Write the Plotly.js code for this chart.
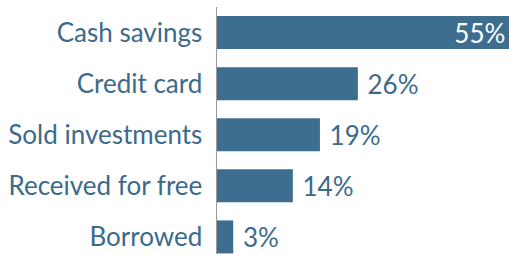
<!DOCTYPE html>
<html>
<head>
<meta charset="utf-8">
<script src="https://cdn.plot.ly/plotly-3.0.1.min.js"></script>
<style>html,body{margin:0;padding:0;overflow:hidden;background:#fff}</style>
</head>
<body>
<div id="chart" style="width:509px;height:254px"></div>
<script>
const categories = ["Cash savings", "Credit card", "Sold investments", "Received for free", "Borrowed"];
const values = [55, 26, 19, 14, 3];
const valueLabels = ["55%\u00a0", " 26%", " 19%", " 14%", " 3%"];
const textPositions = ["inside", "outside", "outside", "outside", "outside"];

const blue = "#3d6d8f";
const textBlue = "#3b6a8b";
const font = "Lato, sans-serif";

Plotly.newPlot("chart", [{
  type: "bar",
  orientation: "h",
  y: categories,
  x: values,
  text: valueLabels,
  textposition: textPositions,
  insidetextanchor: "end",
  constraintext: "none",
  textangle: 0,
  textfont: {family: font, size: 26},
  insidetextfont: {color: "#ffffff", family: font, size: 26},
  outsidetextfont: {color: textBlue, family: font, size: 26},
  marker: {color: blue},
  cliponaxis: true,
  hoverinfo: "none"
}], {
  width: 509,
  height: 254,
  margin: {l: 217, r: 0, t: 7, b: 0},
  paper_bgcolor: "#ffffff",
  plot_bgcolor: "#ffffff",
  bargap: 0.354,
  showlegend: false,
  xaxis: {range: [0, 53.9], showgrid: false, zeroline: false, showticklabels: false, showline: false},
  yaxis: {
    type: "category",
    range: [4.334, -0.5],
    showgrid: false,
    zeroline: false,
    showline: true,
    linecolor: "#9a9a9a",
    linewidth: 1.5,
    ticks: "",
    ticklabelstandoff: 8,
    tickfont: {family: font, size: 26, color: textBlue}
  },
  uniformtext: {mode: false}
}, {displayModeBar: false, staticPlot: true});
</script>
</body>
</html>
